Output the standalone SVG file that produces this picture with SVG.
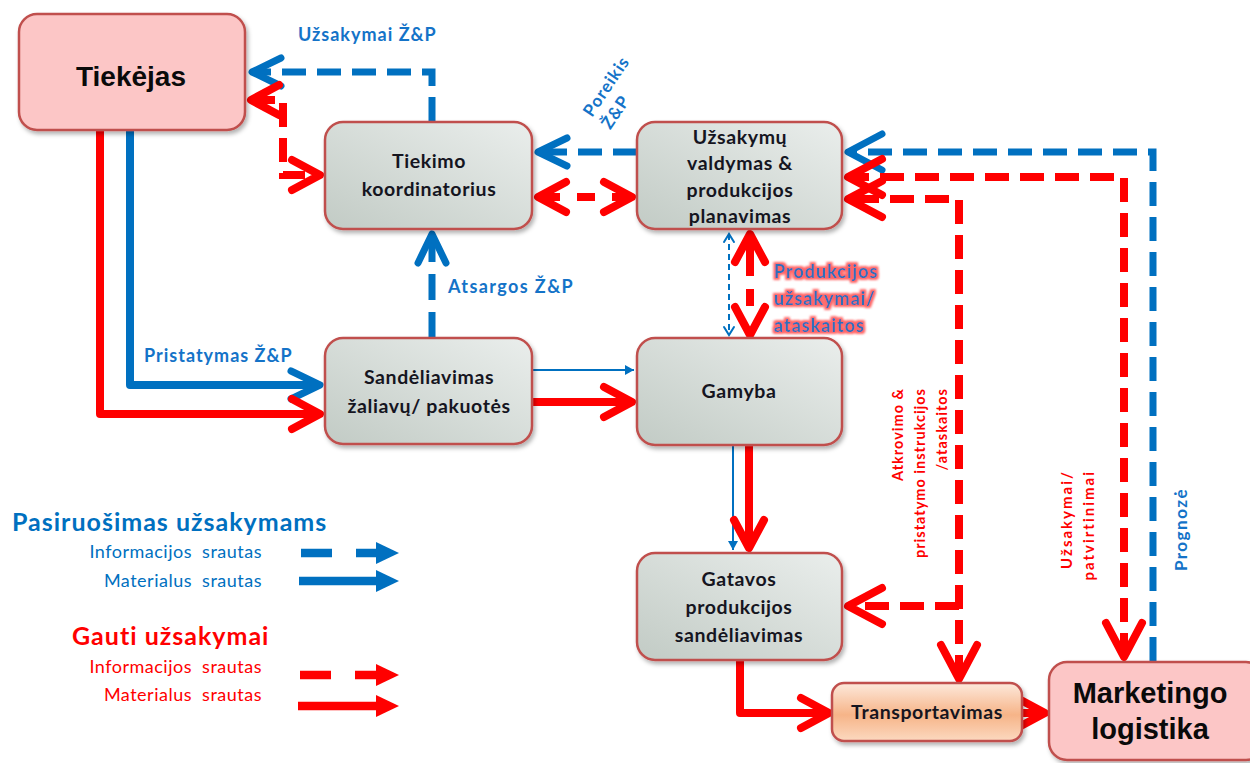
<svg xmlns="http://www.w3.org/2000/svg" width="1250" height="763" viewBox="0 0 1250 763">
  <defs>
    <style>
      .node-gray { fill: url(#gGray); stroke: #c0504d; stroke-width: 2.5; }
      .node-pink { fill: #fcc6c6; stroke: #c0504d; stroke-width: 2.5; }
      .node-orange { fill: url(#gOrange); stroke: #c0504d; stroke-width: 2.5; }
      .ntext { font-family: Lato, "Liberation Sans", sans-serif; font-weight: 700; font-size: 19.5px; letter-spacing: 0.6px; fill: #15151f; text-anchor: middle; }
      .btext { font-family: "Liberation Sans", Arial, sans-serif; font-weight: 700; font-size: 29px; fill: #0a0a0a; text-anchor: middle; }
      .lbl-blue { font-family: Lato, "Liberation Sans", sans-serif; font-weight: 700; font-size: 18px; letter-spacing: 1px; fill: #1473c8; }
      .lbl-red { font-family: Lato, "Liberation Sans", sans-serif; font-weight: 700; font-size: 14.5px; fill: #ff0000; letter-spacing: 1px; }
      .leg { font-family: Lato, "Liberation Sans", sans-serif; font-size: 18px; letter-spacing: 0.5px; word-spacing: 5px; text-anchor: end; }
      .leg-h { font-family: Lato, "Liberation Sans", sans-serif; font-weight: 700; font-size: 25px; letter-spacing: 1px; }
      .bl { stroke: #0070c0; fill: none; }
      .rd { stroke: #ff0000; fill: none; }
      .dash-b { stroke-width: 7; stroke-dasharray: 24 11; }
      .dash-r { stroke-width: 8; stroke-dasharray: 24 11; }
      .solid { stroke-width: 8; stroke-linejoin: round; }
    </style>
    <linearGradient id="gGray" x1="0" y1="1" x2="1" y2="0">
      <stop offset="0" stop-color="#c2cbc5"/>
      <stop offset="1" stop-color="#eaeeec"/>
    </linearGradient>
    <linearGradient id="gOrange" x1="0" y1="0" x2="0" y2="1">
      <stop offset="0" stop-color="#fde9dc"/>
      <stop offset="0.55" stop-color="#f6b488"/>
      <stop offset="1" stop-color="#fcd9c0"/>
    </linearGradient>
    <filter id="shadow" x="-10%" y="-10%" width="125%" height="130%">
      <feDropShadow dx="2" dy="3" stdDeviation="2" flood-color="#000" flood-opacity="0.3"/>
    </filter>
    <filter id="halo" x="-10%" y="-20%" width="120%" height="140%">
      <feMorphology in="SourceAlpha" operator="dilate" radius="2" result="d"/>
      <feFlood flood-color="#ff4a4a" flood-opacity="0.85"/>
      <feComposite operator="in" in2="d"/>
      <feGaussianBlur stdDeviation="1.3" result="g"/>
      <feMerge><feMergeNode in="g"/><feMergeNode in="SourceGraphic"/></feMerge>
    </filter>
    <!-- open chevron heads -->
    <marker id="cb" markerUnits="userSpaceOnUse" viewBox="-40 -22 46 44" refX="0" refY="0" markerWidth="46" markerHeight="44" orient="auto-start-reverse" overflow="visible">
      <path d="M-29,-14 L0,0 L-29,14" fill="none" stroke="#0070c0" stroke-width="7" stroke-linecap="round" stroke-linejoin="round"/>
    </marker>
    <marker id="cbL" markerUnits="userSpaceOnUse" viewBox="-40 -22 46 44" refX="0" refY="0" markerWidth="46" markerHeight="44" orient="auto-start-reverse" overflow="visible">
      <path d="M-34,-18 L0,0 L-34,18" fill="none" stroke="#0070c0" stroke-width="7" stroke-linecap="round" stroke-linejoin="round"/>
    </marker>
    <marker id="cr" markerUnits="userSpaceOnUse" viewBox="-40 -22 46 44" refX="0" refY="0" markerWidth="46" markerHeight="44" orient="auto-start-reverse" overflow="visible">
      <path d="M-28,-15 L0,0 L-28,15" fill="none" stroke="#ff0000" stroke-width="8" stroke-linecap="round" stroke-linejoin="round"/>
    </marker>
    <marker id="crL" markerUnits="userSpaceOnUse" viewBox="-40 -22 46 44" refX="0" refY="0" markerWidth="46" markerHeight="44" orient="auto-start-reverse" overflow="visible">
      <path d="M-34,-18 L0,0 L-34,18" fill="none" stroke="#ff0000" stroke-width="8" stroke-linecap="round" stroke-linejoin="round"/>
    </marker>
    <marker id="cbs" markerUnits="userSpaceOnUse" viewBox="-12 -8 14 16" refX="0" refY="0" markerWidth="14" markerHeight="16" orient="auto-start-reverse" overflow="visible">
      <path d="M-8,-5 L0,0 L-8,5" fill="none" stroke="#0070c0" stroke-width="2" stroke-linecap="round"/>
    </marker>
    <marker id="tbs" markerUnits="userSpaceOnUse" viewBox="-12 -8 14 16" refX="0" refY="0" markerWidth="14" markerHeight="16" orient="auto" overflow="visible">
      <path d="M-9,-5 L0,0 L-9,5 Z" fill="#0070c0"/>
    </marker>
    <!-- filled heads for the legend -->
    <marker id="tb" markerUnits="userSpaceOnUse" viewBox="-2 -12 26 24" refX="0" refY="0" markerWidth="26" markerHeight="24" orient="auto" overflow="visible">
      <path d="M-2,-11 L21,0 L-2,11 Z" fill="#0070c0"/>
    </marker>
    <marker id="tr" markerUnits="userSpaceOnUse" viewBox="-2 -12 26 24" refX="0" refY="0" markerWidth="26" markerHeight="24" orient="auto" overflow="visible">
      <path d="M-2,-11 L21,0 L-2,11 Z" fill="#ff0000"/>
    </marker>
  </defs>

  <rect width="1250" height="763" fill="#ffffff"/>

  <!-- connectors -->
  <g id="connectors">
    <!-- Tiekėjas loop -->
    <path class="bl dash-b" d="M432,121 V72 H252" marker-end="url(#cb)"/>
    <path class="rd dash-r" d="M251,100 H283 V175 H320" marker-start="url(#cr)" marker-end="url(#cr)"/>
    <!-- between coordinator and planning -->
    <path class="bl dash-b" d="M637,152 H538" marker-end="url(#cb)"/>
    <path class="rd" stroke-width="8" stroke-dasharray="22 17 18 17 30" d="M538,197 H632" marker-start="url(#cr)" marker-end="url(#cr)"/>
    <!-- stock report up -->
    <path class="bl" stroke-width="7" stroke-dasharray="26 12" d="M432,338 V234" marker-end="url(#cb)"/>
    <!-- supplier deliveries -->
    <path class="bl solid" d="M130,130 V385 H320" marker-end="url(#cb)"/>
    <path class="rd solid" d="M100,130 V414 H320" marker-end="url(#cr)"/>
    <!-- warehouse to production -->
    <path class="bl" stroke-width="2" d="M533,370 H634" marker-end="url(#tbs)"/>
    <path class="rd solid" d="M533,402 H632" marker-end="url(#cr)"/>
    <!-- planning <-> production -->
    <path class="bl" stroke-width="2" stroke-dasharray="6 4" d="M729,234 V335" marker-start="url(#cbs)" marker-end="url(#cbs)"/>
    <path class="rd" stroke-width="8" stroke-dasharray="42 13 17 100" d="M750,234 V335" marker-start="url(#cr)" marker-end="url(#cr)"/>
    <!-- production to finished goods -->
    <path class="bl" stroke-width="2" d="M733,445 V550" marker-end="url(#tbs)"/>
    <path class="rd solid" d="M749,445 V548" marker-end="url(#cr)"/>
    <!-- finished goods to transport, transport to marketing -->
    <path class="rd solid" d="M740,660 V713 H829" marker-end="url(#cr)"/>
    <path class="rd solid" d="M1020,713 H1045" marker-end="url(#cr)"/>
    <!-- marketing loops -->
    <path class="bl dash-b" d="M1153,661 V152 H848" marker-end="url(#cbL)"/>
    <path class="rd dash-r" d="M1124,657 V177 H848" marker-start="url(#crL)" marker-end="url(#crL)"/>
    <path class="rd dash-r" d="M959,679 V199 H848" marker-start="url(#crL)" marker-end="url(#crL)"/>
    <path class="rd dash-r" d="M959,606 H848" marker-end="url(#crL)"/>
  </g>

  <!-- nodes -->
  <g id="tiekejas">
    <rect class="node-pink" x="19" y="14" width="226" height="116" rx="18" filter="url(#shadow)"/>
    <text class="btext" x="131" y="86" style="font-size:28px">Tiekėjas</text>
  </g>
  <g id="tiekimo-koordinatorius">
    <rect class="node-gray" x="325" y="122" width="207" height="107" rx="18" filter="url(#shadow)"/>
    <text class="ntext" x="429" y="168">Tiekimo</text>
    <text class="ntext" x="429" y="196">koordinatorius</text>
  </g>
  <g id="uzsakymu-valdymas">
    <rect class="node-gray" x="637" y="122" width="205" height="107" rx="18" filter="url(#shadow)"/>
    <text class="ntext" x="740" y="144">Užsakymų</text>
    <text class="ntext" x="740" y="170">valdymas &amp;</text>
    <text class="ntext" x="740" y="197">produkcijos</text>
    <text class="ntext" x="740" y="223">planavimas</text>
  </g>
  <g id="sandeliavimas">
    <rect class="node-gray" x="325" y="338" width="207" height="106" rx="18" filter="url(#shadow)"/>
    <text class="ntext" x="429" y="384">Sandėliavimas</text>
    <text class="ntext" x="429" y="413">žaliavų/ pakuotės</text>
  </g>
  <g id="gamyba">
    <rect class="node-gray" x="637" y="338" width="205" height="107" rx="18" filter="url(#shadow)"/>
    <text class="ntext" x="739" y="398">Gamyba</text>
  </g>
  <g id="gatavos-produkcijos">
    <rect class="node-gray" x="637" y="553" width="205" height="107" rx="18" filter="url(#shadow)"/>
    <text class="ntext" x="739" y="586">Gatavos</text>
    <text class="ntext" x="739" y="614">produkcijos</text>
    <text class="ntext" x="739" y="642">sandėliavimas</text>
  </g>
  <g id="transportavimas">
    <rect class="node-orange" x="832" y="683" width="190" height="58" rx="12" filter="url(#shadow)"/>
    <text class="ntext" x="927" y="719">Transportavimas</text>
  </g>
  <g id="marketingo-logistika">
    <rect class="node-pink" x="1049" y="662" width="215" height="98" rx="18" filter="url(#shadow)"/>
    <text class="btext" x="1150" y="703">Marketingo</text>
    <text class="btext" x="1150" y="739">logistika</text>
  </g>

  <!-- connector labels -->
  <g id="labels">
    <text class="lbl-blue" x="298" y="41">Užsakymai Ž&amp;P</text>
    <text class="lbl-blue" style="font-size:17px" transform="translate(592,118) rotate(-56)"><tspan x="0" y="0">Poreikis</tspan><tspan x="0" dy="22">Ž&amp;P</tspan></text>
    <text class="lbl-blue" x="448" y="293" style="letter-spacing:1.4px">Atsargos Ž&amp;P</text>
    <text class="lbl-blue" x="144" y="362">Pristatymas Ž&amp;P</text>
    <text class="lbl-blue" fill="#2f6fb8" style="fill:#2f6fb8" filter="url(#halo)"><tspan x="774" y="278">Produkcijos</tspan><tspan x="774" y="305">užsakymai/</tspan><tspan x="774" y="332">ataskaitos</tspan></text>
    <text class="lbl-red" text-anchor="end" transform="translate(903,388) rotate(-90)"><tspan x="0" y="0">Atkrovimo &amp;</tspan><tspan x="0" dy="22">pristatymo instrukcijos</tspan><tspan x="0" dy="22">/ataskaitos</tspan></text>
    <text class="lbl-red" text-anchor="end" style="font-size:15px;letter-spacing:2px" transform="translate(1072,470) rotate(-90)"><tspan x="0" y="0">Užsakymai/</tspan><tspan x="0" dy="22">patvirtinimai</tspan></text>
    <text class="lbl-blue" text-anchor="end" style="font-size:17px;letter-spacing:1.5px" transform="translate(1187,488) rotate(-90)">Prognozė</text>
  </g>

  <!-- legend -->
  <g id="legend">
    <text class="leg-h" x="12" y="531" fill="#0070c0">Pasiruošimas užsakymams</text>
    <text class="leg" x="262" y="558" fill="#0070c0">Informacijos srautas</text>
    <text class="leg" x="262" y="587" fill="#0070c0">Materialus srautas</text>
    <path stroke="#0070c0" stroke-width="8.5" stroke-dasharray="31 24" d="M301,553 H378" marker-end="url(#tb)"/>
    <path stroke="#0070c0" stroke-width="8.5" d="M299,581 H378" marker-end="url(#tb)"/>
    <text class="leg-h" x="72" y="645" fill="#ff0000">Gauti užsakymai</text>
    <text class="leg" x="262" y="673" fill="#ff0000">Informacijos srautas</text>
    <text class="leg" x="262" y="701" fill="#ff0000">Materialus srautas</text>
    <path stroke="#ff0000" stroke-width="8.5" stroke-dasharray="31 24" d="M300,675 H378" marker-end="url(#tr)"/>
    <path stroke="#ff0000" stroke-width="8.5" d="M298,706 H378" marker-end="url(#tr)"/>
  </g>
</svg>
